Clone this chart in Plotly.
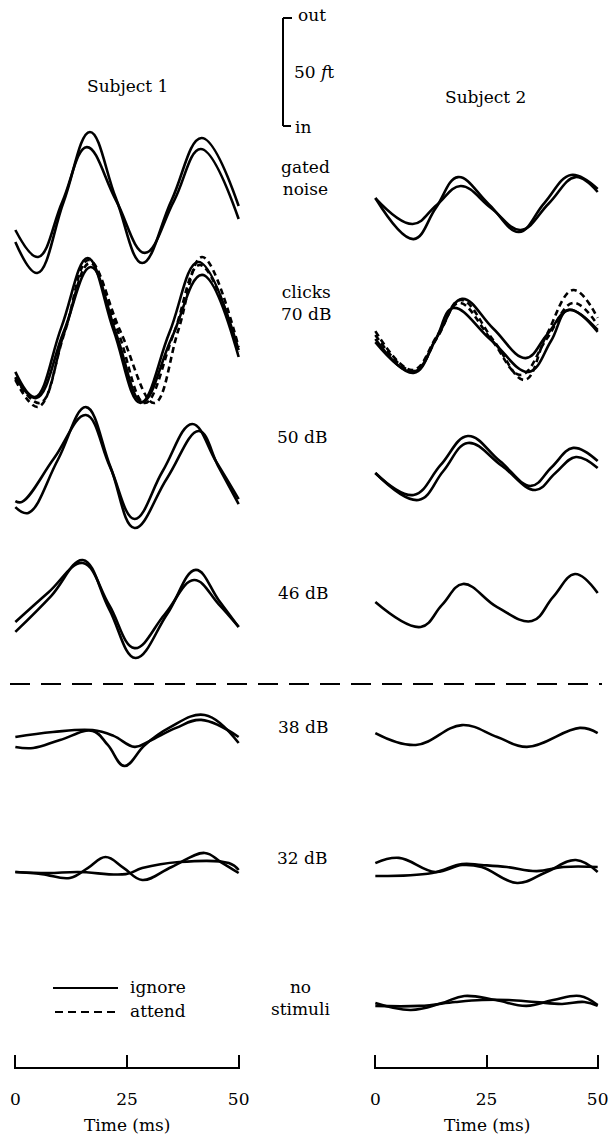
import plotly.graph_objects as go

# ---------------- data (amplitude in fT, time in ms) ----------------
# Row: gated noise
s1_gated_t = [[0, 4.9, 10.8, 16.7, 22.5, 28.4, 35, 41.7, 50],
              [0, 5.1, 10.5, 16, 22.5, 29, 35.5, 41.5, 50]]
s1_gated_v = [[-19.4, -33.8, -0.9, 31.5, 0.9, -29.2, 0.0, 28.7, -2.8],
              [-13.9, -26.4, -0.9, 24.5, 0.0, -24.5, -0.5, 23.6, -8.8]]
s1_gated_c = ["ignore", "ignore"]
s2_gated_t = [[0, 8.6, 13.6, 18.6, 25.5, 32.3, 38, 44, 50],
              [0, 8.4, 13.8, 19.2, 26, 32.7, 39, 45, 50]]
s2_gated_v = [[0.9, -18.1, -3.7, 10.6, -1.9, -14.8, -1.4, 11.6, 5.1],
              [0.9, -11.1, -2.3, 6.5, -3.7, -13.9, -1.6, 10.6, 3.7]]
s2_gated_c = ["ignore", "ignore"]

# Row: clicks 70 dB
s1_clicks_t = [[0, 4.4, 10.3, 16.2, 22, 28, 34.5, 41, 50],
               [0, 4.7, 10.8, 16.9, 22.6, 28.4, 35, 41.8, 50],
               [0, 5.1, 11, 16.4, 23.5, 31.1, 36.5, 41.8, 50],
               [0, 5.5, 11, 16.7, 23, 29, 35.5, 41.3, 50]]
s1_clicks_v = [[-19.4, -31.0, 1.2, 33.3, -0.2, -33.8, -1.2, 31.5, -9.3],
               [-21.8, -31.5, -0.9, 29.2, -1.9, -33.3, -3.7, 25.5, -12.5],
               [-23.1, -35.6, -1.4, 32.4, -0.5, -33.8, 0.0, 33.8, -7.9],
               [-22.2, -33.8, -0.9, 31.0, -0.9, -33.8, -1.4, 30.1, -10.2]]
s1_clicks_c = ["ignore", "ignore", "attend", "attend"]
s2_clicks_t = [[0, 8.6, 14, 19.5, 26.5, 33.8, 38.7, 43.6, 50],
               [0, 8.6, 13.5, 17.5, 26, 34.5, 39.5, 43.4, 50],
               [0, 8.4, 14, 19.2, 26.5, 33.6, 38.5, 44.5, 50],
               [0, 8.6, 14, 18.8, 26, 32.7, 38.5, 44.5, 50]]
s2_clicks_v = [[-4.2, -19.9, -2.8, 14.4, 0.7, -13.0, -1.9, 9.3, -0.9],
               [-5.6, -19.4, -4.6, 10.2, -4.6, -19.4, -5.1, 9.3, 0.0],
               [-0.5, -18.5, -2.3, 13.9, -4.6, -23.1, -2.3, 18.5, 5.6],
               [-2.3, -19.0, -3.2, 12.5, -4.2, -20.8, -4.2, 12.5, 2.3]]
s2_clicks_c = ["ignore", "ignore", "attend", "attend"]

# Row: 50 dB
s1_50_t = [[0, 1.5, 8.7, 15.8, 21.2, 26.7, 33, 39.6, 45, 50],
           [0, 2.9, 9.5, 15.8, 21.3, 26.7, 34, 41.1, 45.5, 50]]
s1_50_v = [[-19.0, -19.4, 0.9, 20.8, -3.2, -27.3, -5.1, 16.7, -0.9, -18.1],
           [-21.8, -24.5, 0.0, 24.5, -3.2, -31.5, -8.3, 13.4, -3.2, -20.4]]
s1_50_c = ["ignore", "ignore"]
s2_50_t = [[0, 8.6, 14.7, 20.8, 28, 35, 39.7, 44.5, 50],
           [0, 9.7, 15.3, 20.8, 28.5, 36, 40.5, 45.1, 50]]
s2_50_v = [[-6.0, -16.2, -2.3, 11.1, -0.5, -12.0, -3.2, 5.6, -0.5],
           [-6.0, -18.5, -5.1, 7.9, -2.8, -13.9, -6.0, 1.4, -3.7]]
s2_50_c = ["ignore", "ignore"]

# Row: 46 dB
s1_46_t = [[0, 8, 15.1, 21, 26.9, 34, 40.4, 45.5, 50],
           [0, 7.5, 15.1, 21, 26.7, 33.5, 40, 45.5, 50]]
s1_46_v = [[-19.4, -2.8, 13.9, -8.8, -31.5, -11.1, 9.3, -4.6, -17.1],
           [-14.8, -0.9, 12.5, -6.9, -26.9, -11.1, 4.6, -6.5, -17.1]]
s1_46_c = ["ignore", "ignore"]
s2_46_t = [[0, 10.2, 15, 19.7, 27.4, 35.2, 40, 44.9, 50]]
s2_46_v = [[-5.6, -17.1, -6.9, 2.8, -7.9, -14.4, -3.2, 7.4, -1.4]]
s2_46_c = ["ignore"]

# Row: 38 dB
s1_38_t = [[0, 4, 10, 17.3, 20.7, 24.4, 29, 34.4, 42.4, 50],
           [0, 8.4, 17.3, 22, 26.7, 30, 36, 41.6, 50]]
s1_38_v = [[-3.2, -3.7, 0.0, 4.2, -2.3, -12.0, -2.3, 5.6, 11.6, -1.4],
           [1.4, 3.7, 4.6, 1.9, -3.2, -0.5, 5.6, 9.3, 1.4]]
s1_38_c = ["ignore", "ignore"]
s2_38_t = [[0, 9.1, 19.5, 27.4, 34.1, 46, 50]]
s2_38_v = [[3.2, -2.3, 6.9, 1.4, -3.2, 5.6, 3.2]]
s2_38_c = ["ignore"]

# Row: 32 dB
s1_32_t = [[0, 6, 12.2, 16.2, 20.2, 24.3, 28.4, 35, 42.4, 46, 50],
           [0, 7.3, 14, 24.7, 28.4, 36.7, 47.8, 50]]
s1_32_v = [[-0.9, -1.9, -3.7, 0.9, 6.0, 0.9, -4.6, 1.4, 7.9, 3.7, -1.4],
           [-0.9, -1.4, -0.9, -1.9, 0.9, 3.7, 3.2, 0.0]]
s1_32_c = ["ignore", "ignore"]
s2_32_t = [[0, 5.3, 13.5, 19.5, 23.9, 31.9, 38.5, 45.1, 50],
           [0, 12.8, 19.5, 23.9, 29.6, 36.3, 42.3, 50]]
s2_32_v = [[3.2, 5.6, -0.9, 2.3, 1.4, -6.0, -0.9, 4.6, -0.9],
           [-2.8, -1.4, 2.8, 2.3, 1.4, -0.5, 1.4, 1.4]]
s2_32_c = ["ignore", "ignore"]

# Row: no stimuli
s2_nostim_t = [[0, 8, 15, 20, 27, 34, 40, 46, 50],
               [0, 10, 18, 24, 30, 36, 42, 47, 50]]
s2_nostim_v = [[3.2, 0.0, 3.2, 6.5, 4.6, 1.9, 4.6, 6.5, 2.3],
               [1.9, 1.9, 3.7, 4.6, 4.6, 3.7, 2.8, 3.7, 1.9]]
s2_nostim_c = ["ignore", "ignore"]

row_labels = ["gated<br>noise", "clicks<br>70 dB", "50 dB", "46 dB", "38 dB", "32 dB", "no<br>stimuli"]
time_ticks = [0, 25, 50]
scale_bar_ft = 50

# ---------------- layout constants ----------------
W, H = 614, 1140
PX_PER_FT = 2.16
FONT = "DejaVu Serif"
FS = 17
row_center_px = [200, 330, 460, 590, 740, 870, 1010]
label_px = [(305, 178), (306, 303), (302, 437), (303, 593), (303, 727), (302, 858), (300, 998)]
DASH = {"ignore": "solid", "attend": "6px,4px"}

fig = go.Figure()


def add_row(ts, vs, cs, row, xa, ya):
    off = -row_center_px[row] / PX_PER_FT
    for t, v, c in zip(ts, vs, cs):
        fig.add_trace(go.Scatter(
            x=t, y=[vi + off for vi in v], mode="lines",
            line=dict(color="black", width=2.6, dash=DASH[c], shape="spline", smoothing=1.15),
            xaxis=xa, yaxis=ya, showlegend=False, hoverinfo="skip"))


s1_rows = [(s1_gated_t, s1_gated_v, s1_gated_c), (s1_clicks_t, s1_clicks_v, s1_clicks_c),
           (s1_50_t, s1_50_v, s1_50_c), (s1_46_t, s1_46_v, s1_46_c),
           (s1_38_t, s1_38_v, s1_38_c), (s1_32_t, s1_32_v, s1_32_c)]
s2_rows = [(s2_gated_t, s2_gated_v, s2_gated_c), (s2_clicks_t, s2_clicks_v, s2_clicks_c),
           (s2_50_t, s2_50_v, s2_50_c), (s2_46_t, s2_46_v, s2_46_c),
           (s2_38_t, s2_38_v, s2_38_c), (s2_32_t, s2_32_v, s2_32_c),
           (s2_nostim_t, s2_nostim_v, s2_nostim_c)]
for i, (t, v, c) in enumerate(s1_rows):
    add_row(t, v, c, i, "x", "y")
for i, (t, v, c) in enumerate(s2_rows):
    add_row(t, v, c, i, "x2", "y2")

axis_pos = 1 - 1068 / H
xcommon = dict(range=[-0.3, 50.3], anchor="free", position=axis_pos, showline=True,
               linecolor="black", linewidth=2, ticks="inside", ticklen=12, tickwidth=2,
               tickcolor="black", tickvals=time_ticks, showgrid=False, zeroline=False,
               tickfont=dict(family=FONT, size=FS, color="black"), ticklabelstandoff=16,
               fixedrange=True, automargin=False)
fig.update_layout(
    width=W, height=H, margin=dict(l=0, r=0, t=0, b=0),
    paper_bgcolor="white", plot_bgcolor="rgba(0,0,0,0)",
    xaxis=dict(domain=[14 / W, 240 / W], **xcommon),
    xaxis2=dict(domain=[374 / W, 599 / W], **xcommon),
    yaxis=dict(domain=[0, 1], range=[-H / PX_PER_FT, 0], visible=False, anchor="x", fixedrange=True),
    yaxis2=dict(domain=[0, 1], matches="y", visible=False, anchor="x2", fixedrange=True),
)

def py(p):
    return 1 - p / H

ann = []
ann.append(dict(text="Subject 1", x=127 / W, y=py(86)))
ann.append(dict(text="Subject 2", x=485 / W, y=py(97)))
for (lx, ly), txt in zip(label_px, row_labels):
    ann.append(dict(text=txt, x=lx / W, y=py(ly)))
ann.append(dict(text="Time (ms)", x=127 / W, y=py(1125)))
ann.append(dict(text="Time (ms)", x=487 / W, y=py(1125)))
# scale bar labels
ann.append(dict(text="out", x=296 / W, y=py(15), xanchor="left"))
ann.append(dict(text="50 <i>f</i>t", x=292 / W, y=py(72), xanchor="left"))
ann.append(dict(text="in", x=293 / W, y=py(127), xanchor="left"))
# legend labels
ann.append(dict(text="ignore", x=128 / W, y=py(987), xanchor="left"))
ann.append(dict(text="attend", x=128 / W, y=py(1011), xanchor="left"))
for a in ann:
    a.setdefault("xanchor", "center")
    a.update(xref="paper", yref="paper", yanchor="middle", showarrow=False,
             font=dict(family=FONT, size=FS, color="black"))
fig.update_layout(annotations=ann)

shapes = []
# scale bar (50 fT) in data units of the y axis
bar_bottom = -126 / PX_PER_FT
bar_top = bar_bottom + scale_bar_ft
bx = 283 / W
shapes.append(dict(type="line", xref="paper", yref="y", x0=bx, x1=bx, y0=bar_bottom, y1=bar_top))
shapes.append(dict(type="line", xref="paper", yref="y", x0=bx, x1=bx + 9 / W, y0=bar_top, y1=bar_top))
shapes.append(dict(type="line", xref="paper", yref="y", x0=bx, x1=bx + 8 / W, y0=bar_bottom, y1=bar_bottom))
# dashed separator
shapes.append(dict(type="line", xref="paper", yref="paper", x0=10 / W, x1=602 / W,
                   y0=py(684), y1=py(684), line=dict(dash="20px,11px")))
# legend samples
shapes.append(dict(type="line", xref="paper", yref="paper", x0=53 / W, x1=118 / W,
                   y0=py(988), y1=py(988)))
shapes.append(dict(type="line", xref="paper", yref="paper", x0=55 / W, x1=116 / W,
                   y0=py(1012), y1=py(1012), line=dict(dash="8px,5px")))
for s in shapes:
    ln = s.setdefault("line", {})
    ln.setdefault("color", "black")
    ln.setdefault("width", 2)
fig.update_layout(shapes=shapes)

fig.write_html("out.html", config={"displayModeBar": False, "staticPlot": True},
               post_script="document.body.style.margin='0';")
